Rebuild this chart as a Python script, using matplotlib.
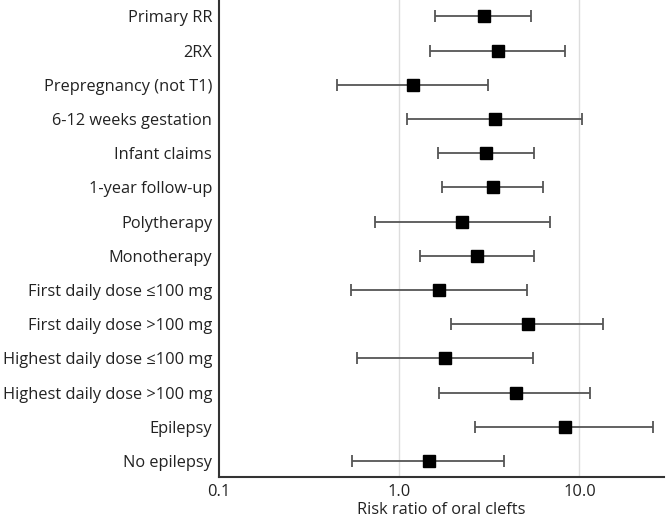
import matplotlib.pyplot as plt
from matplotlib.ticker import FixedLocator, NullLocator

plt.rcParams['font.family'] = ['Open Sans', 'DejaVu Sans']

labels = ['Primary RR', '2RX', 'Prepregnancy (not T1)', '6-12 weeks gestation',
          'Infant claims', '1-year follow-up', 'Polytherapy', 'Monotherapy',
          'First daily dose ≤100 mg', 'First daily dose >100 mg',
          'Highest daily dose ≤100 mg', 'Highest daily dose >100 mg',
          'Epilepsy', 'No epilepsy']
rr = [2.95, 3.52, 1.19, 3.41, 3.04, 3.30, 2.24, 2.70, 1.67, 5.20, 1.80, 4.42, 8.27, 1.46]
lower = [1.57, 1.48, 0.45, 1.11, 1.64, 1.72, 0.73, 1.30, 0.54, 1.94, 0.58, 1.66, 2.63, 0.55]
upper = [5.40, 8.36, 3.11, 10.3, 5.58, 6.25, 6.89, 5.58, 5.09, 13.5, 5.52, 11.5, 25.5, 3.82]

ypos = list(range(len(labels)))
err = [[r - lo for r, lo in zip(rr, lower)], [hi - r for r, hi in zip(rr, upper)]]

fig = plt.figure(figsize=(6.66, 5.19), dpi=100)
ax = fig.add_axes([0.329, 0.0815, 0.668, 0.9185])

ax.errorbar(rr, ypos, xerr=err, fmt='s', color='black', ms=8.5,
            ecolor='#555555', elinewidth=1.3, capsize=4, capthick=1.3, zorder=3)

ax.set_xscale('log')
ax.set_xlim(0.1, 29.5)
ax.set_ylim(13.46, -0.48)
ax.xaxis.set_major_locator(FixedLocator([0.1, 1, 10]))
ax.xaxis.set_minor_locator(NullLocator())
ax.set_xticklabels(['0.1', '1.0', '10.0'])
ax.set_yticks(ypos)
ax.set_yticklabels(labels)
ax.tick_params(length=0, labelsize=11.8, colors='#222222', pad=5)
ax.tick_params(axis='x', pad=5)
for x in [1, 10]:
    ax.axvline(x, color='#dddddd', lw=1, zorder=0)

for s in ['top', 'right']:
    ax.spines[s].set_visible(False)
for s in ['left', 'bottom']:
    ax.spines[s].set_color('#333333')
    ax.spines[s].set_linewidth(1.5)

ax.set_xlabel('Risk ratio of oral clefts', fontsize=11.8, color='#222222', labelpad=2)

plt.savefig('out.png', dpi=100)
